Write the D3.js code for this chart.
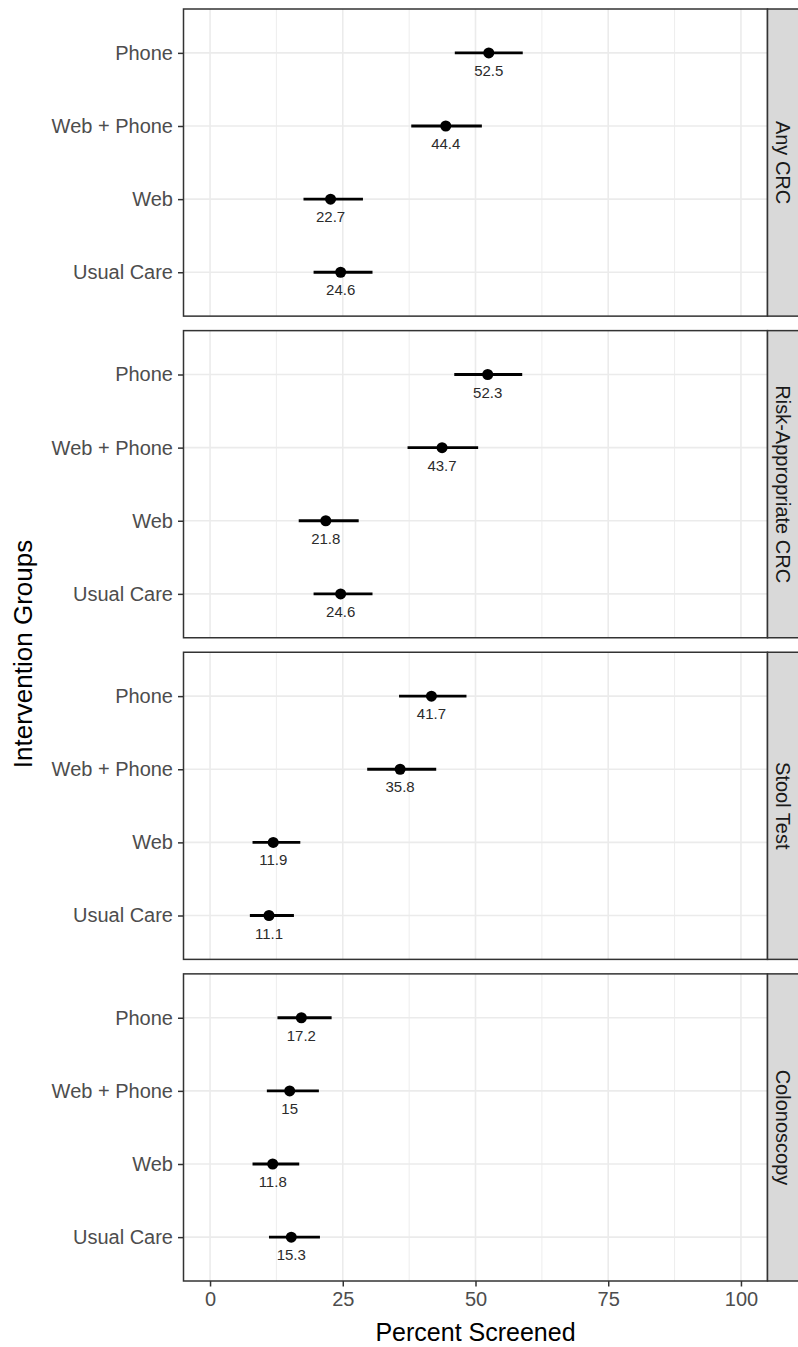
<!DOCTYPE html>
<html>
<head>
<meta charset="utf-8">
<script src="https://cdn.jsdelivr.net/npm/d3@7"></script>
<style>
  body { margin: 0; background: #fff; }
  svg { display: block; font-family: "Liberation Sans", Arial, sans-serif; }
</style>
</head>
<body>
<svg id="chart" width="798" height="1347"></svg>
<script>
// facet order (top to bottom) and group order (top to bottom within a facet)
var measures = ["Any CRC", "Risk-Appropriate CRC", "Stool Test", "Colonoscopy"];
var groups = ["Phone", "Web + Phone", "Web", "Usual Care"];

// percent screened, one array per facet, in group order
var anyCrc = [52.5, 44.4, 22.7, 24.6];
var anyCrcLow = [46.1, 37.9, 17.6, 19.5];
var anyCrcHigh = [58.9, 51.2, 28.8, 30.6];

var riskCrc = [52.3, 43.7, 21.8, 24.6];
var riskCrcLow = [46.0, 37.2, 16.7, 19.5];
var riskCrcHigh = [58.8, 50.5, 28.0, 30.6];

var stool = [41.7, 35.8, 11.9, 11.1];
var stoolLow = [35.6, 29.6, 8.0, 7.5];
var stoolHigh = [48.3, 42.6, 17.0, 15.8];

var colon = [17.2, 15, 11.8, 15.3];
var colonLow = [12.7, 10.7, 8.0, 11.1];
var colonHigh = [22.9, 20.5, 16.8, 20.7];

var xTicks = [0, 25, 50, 75, 100];
var xMinor = [12.5, 37.5, 62.5, 87.5];

var est = [anyCrc, riskCrc, stool, colon];
var lows = [anyCrcLow, riskCrcLow, stoolLow, colonLow];
var highs = [anyCrcHigh, riskCrcHigh, stoolHigh, colonHigh];

var margin = {top: 9, right: 30.5, bottom: 66, left: 183.5};
var W = 798, H = 1347;
var gap = 14.5;
var stripW = 34; // runs past the right edge, as in the source image
var width = W - margin.left - margin.right;
var panelH = (H - margin.top - margin.bottom - gap * (measures.length - 1)) / measures.length;

var svg = d3.select("#chart");
var g = svg.append("g")
  .attr("transform", "translate(" + margin.left + "," + margin.top + ")");

var x = d3.scaleLinear().domain([-5, 105]).range([0, width]);
var y = d3.scalePoint().domain(groups).range([0, panelH]).padding(0.6);

measures.forEach(function(m, i) {
  var rows = groups.map(function(grp, j) {
    return {group: grp, v: est[i][j], lo: lows[i][j], hi: highs[i][j]};
  });

  var p = g.append("g")
    .attr("class", "panel")
    .attr("transform", "translate(0," + (i * (panelH + gap)) + ")");

  p.append("rect")
    .attr("width", width).attr("height", panelH)
    .attr("fill", "#fff");

  // grid
  p.selectAll("line.minor")
    .data(xMinor).enter().append("line")
      .attr("class", "minor")
      .attr("x1", x).attr("x2", x)
      .attr("y1", 0).attr("y2", panelH)
      .attr("stroke", "#ebebeb").attr("stroke-width", 0.9);
  p.selectAll("line.vmajor")
    .data(xTicks).enter().append("line")
      .attr("class", "vmajor")
      .attr("x1", x).attr("x2", x)
      .attr("y1", 0).attr("y2", panelH)
      .attr("stroke", "#ebebeb").attr("stroke-width", 1.6);
  p.selectAll("line.hmajor")
    .data(groups).enter().append("line")
      .attr("class", "hmajor")
      .attr("x1", 0).attr("x2", width)
      .attr("y1", y).attr("y2", y)
      .attr("stroke", "#ebebeb").attr("stroke-width", 1.6);

  // error bars
  p.selectAll("line.ci")
    .data(rows).enter().append("line")
      .attr("class", "ci")
      .attr("x1", function(d) { return x(d.lo); })
      .attr("x2", function(d) { return x(d.hi); })
      .attr("y1", function(d) { return y(d.group); })
      .attr("y2", function(d) { return y(d.group); })
      .attr("stroke", "#000").attr("stroke-width", 2.8);

  p.selectAll("circle")
    .data(rows).enter().append("circle")
      .attr("cx", function(d) { return x(d.v); })
      .attr("cy", function(d) { return y(d.group); })
      .attr("r", 5.5)
      .attr("fill", "#000");

  p.selectAll("text.val")
    .data(rows).enter().append("text")
      .attr("class", "val")
      .attr("x", function(d) { return x(d.v); })
      .attr("y", function(d) { return y(d.group) + 23; })
      .attr("text-anchor", "middle")
      .attr("font-size", 15)
      .attr("fill", "#2b2b2b")
      .text(function(d) { return String(d.v); });

  // y axis
  var ya = p.append("g")
    .call(d3.axisLeft(y).tickSize(5.5).tickPadding(5));
  ya.select(".domain").remove();
  ya.selectAll(".tick line").attr("stroke", "#333").attr("stroke-width", 1.5);
  ya.selectAll(".tick text").attr("font-size", 20).attr("fill", "#4d4d4d")
    .attr("font-family", "Liberation Sans, Arial, sans-serif");

  // border
  p.append("rect")
    .attr("width", width).attr("height", panelH)
    .attr("fill", "none").attr("stroke", "#333").attr("stroke-width", 1.5);

  // strip on the right
  p.append("rect")
    .attr("x", width).attr("width", stripW).attr("height", panelH)
    .attr("fill", "#d9d9d9").attr("stroke", "#333").attr("stroke-width", 1.5);
  p.append("text")
    .attr("transform", "translate(" + (width + 15) + "," + (panelH / 2) + ") rotate(90)")
    .attr("text-anchor", "middle")
    .attr("dy", "0.35em")
    .attr("font-size", 20)
    .attr("fill", "#1a1a1a")
    .text(m);
});

// x axis under the last panel
var totalH = measures.length * panelH + (measures.length - 1) * gap;
var xa = g.append("g")
  .attr("transform", "translate(0," + totalH + ")")
  .call(d3.axisBottom(x).tickValues(xTicks).tickSize(5.5).tickPadding(5));
xa.select(".domain").remove();
xa.selectAll(".tick line").attr("stroke", "#333").attr("stroke-width", 1.5);
xa.selectAll(".tick text").attr("font-size", 20).attr("fill", "#4d4d4d")
  .attr("font-family", "Liberation Sans, Arial, sans-serif");

g.append("text")
  .attr("x", width / 2)
  .attr("y", totalH + 60)
  .attr("text-anchor", "middle")
  .attr("font-size", 25)
  .attr("fill", "#000")
  .text("Percent Screened");

svg.append("text")
  .attr("transform", "translate(32," + 654 + ") rotate(-90)")
  .attr("text-anchor", "middle")
  .attr("font-size", 26)
  .attr("fill", "#000")
  .text("Intervention Groups");
</script>
</body>
</html>
